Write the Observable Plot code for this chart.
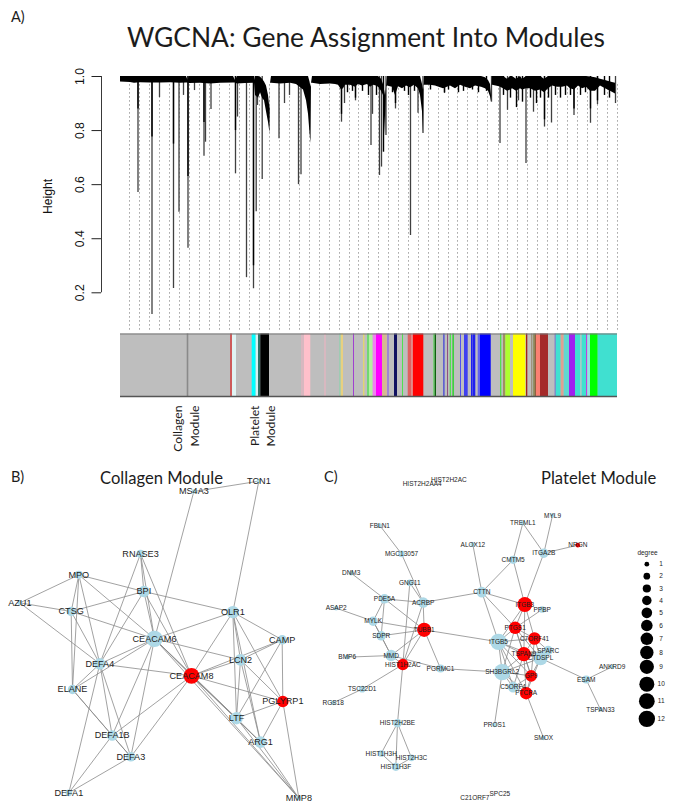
<!DOCTYPE html>
<html><head><meta charset="utf-8">
<script src="https://cdn.jsdelivr.net/npm/d3@7"></script>
<script src="https://cdn.jsdelivr.net/npm/@observablehq/plot@0.6"></script>
<style>
html,body{margin:0;padding:0;background:#fff;}
#page{position:relative;width:675px;height:811px;overflow:hidden;font-family:Lato,"Open Sans",sans-serif;color:#1c1c1c;}
#page svg{background:transparent;display:block;}
.h{position:absolute;white-space:nowrap;line-height:1;z-index:3;}
.p{position:absolute;}
</style></head><body><div id="page">
<div class="h" style="left:11px;top:10px;font-size:14.5px;">A)</div>
<div class="h" style="left:127px;top:24px;font-size:26.4px;">WGCNA: Gene Assignment Into Modules</div>
<div class="h" style="left:11px;top:470px;font-size:14.5px;">B)</div>
<div class="h" style="left:100px;top:470px;font-size:16.6px;">Collagen Module</div>
<div class="h" style="left:324px;top:470px;font-size:14.5px;">C)</div>
<div class="h" style="left:541px;top:470px;font-size:16.6px;">Platelet Module</div>
<div class="p" id="tree" style="left:0;top:60px"></div>
<div class="p" id="band" style="left:0;top:332px"></div>
<div class="p" id="netB" style="left:0;top:465px"></div>
<div class="p" id="netC" style="left:320px;top:465px"></div>
</div>
<script>
// ---------- Panel A: dendrogram ----------
const yTicks=[0.2,0.4,0.6,0.8,1.0];
const guideX=[129,139,149,159,169,179,189,199,209,219,229,239,249,259,269,279,289,299,309,319,329,339,349,358,368,378,388,398,408,418,428,438,448,457,467,477,487,498,507,517,527,537,547,557,567,577,587,597,607,617];
// crown of the tree: gene position, upper and lower merge height
const crownX=[120,130,134,140,150,160,170,180,186,187.5,189,200,210,220,233,235,237,245,253,254,255,258,260,262,264,266,268,269.5,270,271,280,290,296,303,306,308,309.5,310.5,311,312,320,330,335,338,341,343,345,350,355,358,362,367,370,373,376,378,381,383,385,386,387,392,395,398,402,406,410,414,418,420,422,423,423.5,424,430,435,443,450,455,460,465,470,475,481,485,488,490,491,491.5,492,499,503,507,510,512,516,520,522,526,530,535,540,544,548,552,557,562,567,570,574,578,582,586,590,595,600,605,610,615,617];
const crownTop=[1,1,1,1,1,1,1,1,1,0.985,1,1,1,1,1,0.985,1,1,1,0.985,1,1,0.998,0.99,0.98,0.965,0.93,0.88,0.975,1,1,1,1,1,1,1,0.98,0.96,0.975,1,1,1,1,1,1,1,1,1,1,1,1,1,1,1,1,1,0.99,0.97,0.93,0.96,1,1,1,1,1,1,1,1,1,1,0.97,0.95,0.96,1,1,1,1,1,1,1,1,1,1,1,0.995,0.985,0.97,0.93,0.96,1,1,1,0.99,1,1,0.99,1,0.99,1,1,1,1,0.99,1,1,1,1,1,1,1,1,1,1,0.998,0.995,0.99,0.985,0.98,0.975];
const crownLow=[0.98,0.978,0.975,0.977,0.976,0.976,0.977,0.975,0.976,0.976,0.974,0.975,0.972,0.975,0.976,0.976,0.972,0.974,0.975,0.975,0.93,0.92,0.94,0.92,0.91,0.87,0.83,0.79,0.975,0.975,0.972,0.975,0.97,0.95,0.91,0.86,0.79,0.752,0.975,0.975,0.97,0.972,0.97,
0.968,0.95,0.955,0.968,0.968,0.96,0.97,0.965,0.97,0.96,0.968,0.965,0.96,0.945,0.93,0.78,0.96,0.965,0.96,0.93,0.962,0.955,0.965,0.958,0.968,0.955,0.93,0.87,0.789,0.965,0.968,0.968,0.965,0.955,0.965,0.955,0.968,0.96,0.955,0.965,0.96,0.955,0.945,0.925,0.905,0.965,0.968,0.962,0.955,0.945,0.95,0.955,0.945,0.955,0.95,0.955,0.955,0.945,0.95,0.94,0.955,0.965,0.96,0.96,0.965,0.955,0.95,0.965,0.955,0.96,0.945,0.945,0.965,0.955,0.945,0.935,0.9];
// long single branches: position and lowest height
const branchX=[137.5,151.5,159,173,178.5,183,187.5,194,203.5,205,210.5,235,237,246,253,255.7,257,261.7,278.5,284,289,298,300.5,341,344,355,370.5,372,379,381,385.5,395,410,417.5,422.5,444,491,499.5,507,518,525.5,533,544,551,573.5,590,597,615];
const branchLow=[0.571,0.12,0.922,0.216,0.498,0.93,0.365,0.948,0.705,0.757,0.878,0.64,0.85,0.256,0.215,0.5,0.893,0.619,0.77,0.9,0.93,0.6,0.637,0.831,0.9,0.91,0.745,0.86,0.634,0.665,0.782,0.88,0.412,0.864,0.789,0.937,0.905,0.752,0.875,0.91,0.678,0.868,0.813,0.828,0.856,0.827,0.896,0.9];
// darker upper part of branches and the short jagged ones
const coreX=[137.5,151.5,173,187.5,203.5,235,253,341,347,352,355,362,368,376,383,392,395,404,408,414,430,444,448,458,463,472,478,486,503,510,516,522,530,536,540,544,548,555,560,565,570,573.5,580,585,590,597,604,609];
const coreLow=[0.88,0.776,0.75,0.63,0.83,0.8,0.3,0.86,0.94,0.945,0.92,0.945,0.93,0.93,0.72,0.94,0.9,0.945,0.93,0.945,0.95,0.94,0.95,0.94,0.945,0.95,0.94,0.945,0.93,0.92,0.885,0.905,0.92,0.9,0.92,0.84,0.92,0.93,0.92,0.93,0.93,0.88,0.93,0.94,0.88,0.91,0.93,0.92];

const crown=crownX.map((x,i)=>({x,top:crownTop[i],low:crownLow[i]}));
const branches=branchX.map((x,i)=>({x,low:branchLow[i]}));
const cores=coreX.map((x,i)=>({x,low:coreLow[i]}));
document.getElementById("tree").append(Plot.plot({
  width:675,height:272,marginTop:0,marginRight:0,marginBottom:0,marginLeft:101,
  style:{fontFamily:"Liberation Sans, Arial, sans-serif",color:"#111",background:"transparent"},
  x:{domain:[0,675],range:[0,675],axis:null},
  y:{domain:[0.2,1],range:[232.3,16]},
  marks:[
    Plot.ruleX(guideX,{x:d=>d,y1:0.97,y2:0.058,stroke:"#9a9a9a",strokeWidth:0.9,strokeDasharray:"1.6,2.4"}),
    Plot.ruleX(branches,{x:"x",y1:1,y2:"low",stroke:"#404040",strokeWidth:1.3}),
    Plot.ruleX(cores,{x:"x",y1:1,y2:"low",stroke:"#000",strokeWidth:1.4}),
    Plot.areaY(crown,{x:"x",y1:"top",y2:"low",fill:"#000",curve:"linear"}),
    Plot.ruleX([101],{x:d=>d,y1:0.2,y2:1,stroke:"#222",strokeWidth:0.9}),
    Plot.axisY({anchor:"left",ticks:yTicks,tickFormat:".1f",tickRotate:-90,tickSize:9.5,tickPadding:8,fontSize:12.2,stroke:"#222",
      label:"Height",labelAnchor:"center",labelArrow:"none",labelOffset:58})
  ]
}));

// ---------- Panel A: module colour band ----------
const moduleStart=[120,186.7,230,232,251.7,255.7,258,260.3,301,304,324,339.3,340.7,353,363.3,367,369,372.7,376,382,387.3,394,402,407.7,411.7,412.7,433.3,434.7,443,447,449.7,452.3,460,464,471,473,477.7,480,500,503,505.3,513,526,531.3,533.3,534.7,536,540,554.7,555.7,560.7,563.7,569,575,580,581.7,586,587.3,590,597.7];
const moduleEnd=[617,188.3,232,236,255.7,258,260.3,269,304,310.3,326,340.7,343,354,364.3,369,372.7,376,382,386.7,388.7,397,403,411.7,412.7,423.3,434.7,436,444.7,448,451,454,461,467.7,472.7,475.3,480,490.7,501.3,505.3,510,525.3,527.3,532.3,534.7,536,540,548,555.7,560.7,563.7,569,575,580,581.7,586,587.3,590,597.7,617];
const moduleColor=["#bebebe","#8a8a8a","#cd5c5c","#e0f4f4","#00ffff","#d8f0f0","#2f6f66","#000000","#d8b8c0","#ffc0cb","#d8b8c0","#90d0b0","#e8d080","#a040d0","#f0e050","#70d870","#b4f0a0","#f080f0","#ff00ff","#d8b890","#9370db","#101060","#50e050","#e06060","#f0b0b0","#ff0000","#60d060","#106010","#6060d0","#905080","#50e050","#40d040","#5050f0","#4040f0","#2020f0","#2020f0","#6060f0","#0000ff","#50e050","#a09060","#adff2f","#ffff00","#a02020","#908060","#808040","#906040","#fa8072","#a52a2a","#6a5acd","#40e0d0","#e0a090","#60d8d0","#a020f0","#40e0d0","#a0d0c8","#40e0d0","#c040e0","#90e8e0","#00ff00","#40e0d0"];
const moduleNames=["Collagen","Module","Platelet","Module"];
const moduleNameX=[178,195,255,271];
const cells=moduleStart.map((s,i)=>({s,e:moduleEnd[i],c:moduleColor[i]}));
const names=moduleNames.map((t,i)=>({t,x:moduleNameX[i]}));
document.getElementById("band").append(Plot.plot({
  width:675,height:128,margin:0,
  style:{fontFamily:"Lato, sans-serif",color:"#1c1c1c",background:"transparent"},
  x:{domain:[0,675],range:[0,675],axis:null},
  y:{domain:[0,1],range:[64,1.5],axis:null},
  marks:[
    Plot.rect(cells,{x1:"s",x2:"e",y1:0,y2:1,fill:d=>d.c,stroke:"none"}),
    Plot.ruleY([1],{x1:120,x2:617,y:d=>d,stroke:"#777",strokeWidth:1}),
    Plot.ruleY([0],{x1:120,x2:617,y:d=>d,stroke:"#555",strokeWidth:1.6}),
    Plot.text(names,{x:"x",y:0,text:"t",rotate:-90,textAnchor:"end",dy:9,fontSize:12.2,fill:"#1c1c1c"})
  ]
}));

// ---------- Panel B: collagen network ----------
const bNames=["TCN1","MS4A3","RNASE3","MPO","BPI","AZU1","CTSG","OLR1","CEACAM6","CAMP","LCN2","DEFA4","CEACAM8","ELANE","PGLYRP1","LTF","DEFA1B","ARG1","DEFA3","DEFA1","MMP8"];
const bX=[775,580,420,235,430,58,212,697,462,845,720,298,573,216,847,708,335,780,391,205,895];
const bY=[47,78,265,328,378,412,438,440,520,523,583,595,631,672,708,758,810,830,874,982,998];
const bDegree=[1,1,3,3,6,1,4,7,12,4,6,6,11,4,6,7,5,6,4,2,1];
const bHubs=["CEACAM8","PGLYRP1"];
const bEdges=["MS4A3-TCN1","MS4A3-CEACAM6","TCN1-OLR1","RNASE3-DEFA4","RNASE3-BPI","RNASE3-CEACAM6","RNASE3-CEACAM8","MPO-AZU1","MPO-CTSG","MPO-DEFA4","MPO-ELANE","MPO-CEACAM6","MPO-BPI","AZU1-CTSG","AZU1-DEFA4","CTSG-BPI","CTSG-DEFA4","CTSG-ELANE","CTSG-CEACAM6","BPI-OLR1","BPI-DEFA4","BPI-CEACAM6","BPI-CEACAM8","OLR1-CEACAM6","OLR1-CEACAM8","OLR1-CAMP","OLR1-LCN2","OLR1-LTF","OLR1-ARG1","OLR1-PGLYRP1","CEACAM6-LCN2","CEACAM6-CEACAM8","CEACAM6-DEFA4","CEACAM6-ELANE","CEACAM6-DEFA1B","CEACAM6-DEFA3","CEACAM6-LTF","CEACAM6-ARG1","CEACAM6-MMP8","CAMP-LCN2","CAMP-CEACAM8","CAMP-LTF","CAMP-PGLYRP1","LCN2-CEACAM8","LCN2-LTF","LCN2-PGLYRP1","LCN2-ARG1","DEFA4-CEACAM8","DEFA4-ELANE","DEFA4-DEFA1B","DEFA4-DEFA3","DEFA4-DEFA1","CEACAM8-PGLYRP1","CEACAM8-LTF","CEACAM8-ARG1","CEACAM8-DEFA1B","CEACAM8-DEFA3","CEACAM8-MMP8","ELANE-DEFA1B","ELANE-DEFA3","PGLYRP1-LTF","PGLYRP1-ARG1","PGLYRP1-MMP8","LTF-ARG1","LTF-MMP8","ARG1-MMP8","DEFA1B-DEFA3","DEFA1B-DEFA1","DEFA3-DEFA1"];

// ---------- Panel C: platelet network ----------
const cNames=["HIST2H2AA4","HIST2H2AC","FBLN1","MGC13057","DNM3","GNG11","PDE5A","ACRBP","ASAP2","MYLK","TUBB1","SDPR","BMP6","MMD","HIST1H2AC","PGRMC1","TSC22D1","RGS18","HIST2H2BE","HIST1H3H","HIST2H3C","HIST1H3F","ALOX12","CTTN","CMTM5","TREML1","MYL9","ITGA2B","NRGN","ITGB3","PPBP","PTGS1","SPARC","CTDSPL","C7ORF41","ITGB5","TSPAN9","SH3BGRL2","C5ORF4","GP9","PTCRA","ESAM","ANKRD9","TSPAN33","PROS1","SMOX","C21ORF7","SPC25"];
const cX=[305,385,178,243,92,268,192,308,47,158,311,182,80,212,247,360,125,38,231,182,273,226,457,484,578,607,696,670,772,613,665,584,683,660,642,534,610,545,578,632,617,797,875,840,522,669,463,538];
const cY=[55,43,180,265,323,352,400,411,428,467,493,511,575,570,597,609,671,712,773,864,877,904,237,380,283,173,150,263,239,417,432,487,555,578,519,529,566,620,665,631,683,642,604,732,778,817,996,986];
const cDegree=[0,0,1,2,1,2,4,5,1,4,9,4,1,6,6,3,2,1,3,2,2,3,1,5,3,1,1,4,1,10,2,7,4,9,7,12,9,12,5,6,7,3,1,1,1,1,0,0];
const cHubs=["TUBB1","HIST1H2AC","ITGB3","PTGS1","C7ORF41","TSPAN9","GP9","PTCRA","NRGN"];
const cEdges=["FBLN1-MGC13057","MGC13057-ACRBP","GNG11-ACRBP","GNG11-HIST1H2AC","DNM3-PDE5A","PDE5A-ACRBP","PDE5A-MYLK","PDE5A-SDPR","PDE5A-TUBB1","ACRBP-TUBB1","ACRBP-CTTN","ACRBP-HIST1H2AC","ASAP2-MYLK","MYLK-TUBB1","MYLK-SDPR","MYLK-MMD","SDPR-TUBB1","SDPR-MMD","TUBB1-MMD","TUBB1-HIST1H2AC","TUBB1-PGRMC1","TUBB1-ITGB5","BMP6-MMD","MMD-HIST1H2AC","MMD-PGRMC1","HIST1H2AC-TSC22D1","HIST1H2AC-HIST2H2BE","TSC22D1-RGS18","PGRMC1-SH3BGRL2","HIST2H2BE-HIST1H3H","HIST2H2BE-HIST2H3C","HIST2H2BE-HIST1H3F","HIST1H3H-HIST1H3F","HIST2H3C-HIST1H3F","ALOX12-CTTN","CTTN-ITGB5","CTTN-CMTM5","CTTN-ITGB3","CTTN-PTGS1","CMTM5-TREML1","CMTM5-ITGB3","TREML1-ITGA2B","MYL9-ITGA2B","ITGA2B-NRGN","ITGA2B-ITGB3","ITGB3-PTGS1","ITGB3-C7ORF41","ITGB3-ITGB5","ITGB3-TSPAN9","PPBP-PTGS1","PTGS1-C7ORF41","PTGS1-ITGB5","PTGS1-TSPAN9","PTGS1-CTDSPL","PTGS1-SH3BGRL2","PTGS1-GP9","C7ORF41-ITGB5","C7ORF41-TSPAN9","C7ORF41-SPARC","C7ORF41-CTDSPL","C7ORF41-GP9","ITGB5-TSPAN9","ITGB5-SH3BGRL2","ITGB5-GP9","ITGB5-CTDSPL","ITGB5-C5ORF4","ITGB5-PTCRA","SPARC-CTDSPL","SPARC-TSPAN9","TSPAN9-CTDSPL","TSPAN9-SH3BGRL2","TSPAN9-GP9","TSPAN9-C5ORF4","TSPAN9-PTCRA","CTDSPL-ESAM","CTDSPL-SH3BGRL2","CTDSPL-GP9","CTDSPL-PTCRA","SH3BGRL2-GP9","SH3BGRL2-C5ORF4","SH3BGRL2-PTCRA","SH3BGRL2-PROS1","GP9-C5ORF4","GP9-PTCRA","C5ORF4-PTCRA","PTCRA-SMOX","ESAM-ANKRD9","ESAM-TSPAN33"];
const legendDegree=[1,2,3,4,5,6,7,8,9,10,11,12];
const legendY=[296,332,369,405,442,480,520,561,604,656,707,760];
const legendTitle=["degree"];

function network(names,xs,ys,degree,hubs,edges,w,fontSize,extra){
  const nodes=names.map((name,i)=>({name,x:xs[i],y:ys[i],degree:degree[i],hub:hubs.includes(name)}));
  const byName=new Map(nodes.map(n=>[n.name,n]));
  const links=edges.map(e=>{const [a,b]=e.split("-");return {a:byName.get(a),b:byName.get(b)};});
  return Plot.plot({
    width:w,height:346,margin:0,
    style:{fontFamily:"Liberation Sans, Arial, sans-serif",color:"#1c1c1c",background:"transparent"},
    x:{domain:[0,w*3],range:[0,w],axis:null},
    y:{domain:[0,1038],range:[0,346],axis:null},
    r:{type:"sqrt",domain:[0,12],range:[0,8.2]},
    marks:[
      Plot.link(links,{x1:d=>d.a.x,y1:d=>d.a.y,x2:d=>d.b.x,y2:d=>d.b.y,stroke:"#8a8a8a",strokeWidth:0.8,curve:"linear"}),
      Plot.dot(nodes,{x:"x",y:"y",r:"degree",fill:d=>d.hub?"#ff0000":"#add8e6",stroke:"none"}),
      Plot.text(nodes,{x:"x",y:"y",text:"name",fontSize,fill:"#1c1c1c"}),
      ...extra
    ]
  });
}
document.getElementById("netB").append(network(bNames,bX,bY,bDegree,bHubs,bEdges,330,9.1,[]));
const legend=legendDegree.map((degree,i)=>({degree,y:legendY[i]}));
document.getElementById("netC").append(network(cNames,cX,cY,cDegree,cHubs,cEdges,355,6.5,[
  Plot.dot(legend,{x:()=>979,y:"y",r:"degree",fill:"#000",stroke:"none"}),
  Plot.text(legend,{x:()=>1022,y:"y",text:"degree",fontSize:6.5,fill:"#1c1c1c"}),
  Plot.text(legendTitle,{x:()=>981,y:()=>262,text:d=>d,fontSize:6.5,fill:"#1c1c1c"})
]));
</script></body></html>
